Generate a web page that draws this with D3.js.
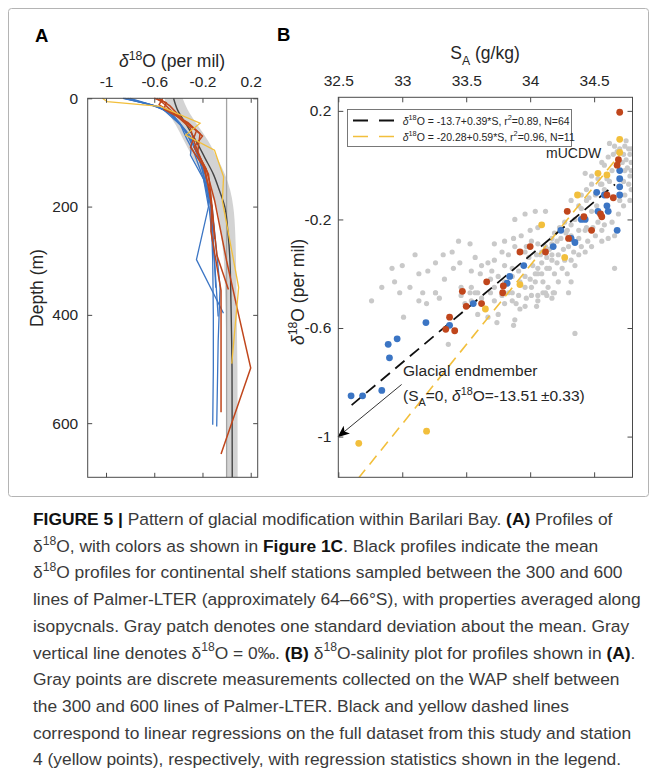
<!DOCTYPE html>
<html><head><meta charset="utf-8">
<script src="https://cdn.jsdelivr.net/npm/d3@7"></script>
<style>body{margin:0;background:#fff} svg{display:block} text{font-family:"Liberation Sans",Arial,Helvetica,sans-serif}</style>
</head><body><svg id="c" width="657" height="777"></svg>
<script>
// ---------------- DATA ----------------
// Panel A: mean profile (depth m, d18O per mil) and one standard deviation
const meanDepth = [0, 20, 50, 80, 110, 140, 170, 200, 250, 300, 375, 450, 500, 600, 700];
const meanD18O  = [-0.44, -0.41, -0.33, -0.25, -0.18, -0.11, -0.06, -0.015, 0.012, 0.028, 0.036, 0.042, 0.045, 0.046, 0.047];
const stdD18O   = [0.075, 0.085, 0.09, 0.1, 0.1, 0.095, 0.09, 0.07, 0.06, 0.05, 0.047, 0.045, 0.045, 0.045, 0.045];
// station profiles: [depth, d18O]
const blueProfiles = [
  [[0,-0.86],[10,-0.66],[20,-0.53],[50,-0.38],[75,-0.33],[100,-0.27],[150,-0.19],[200,-0.13],[300,-0.115],[400,-0.11],[500,-0.11],[603,-0.115]],
  [[0,-0.84],[12,-0.62],[22,-0.5],[45,-0.39],[80,-0.29],[110,-0.23],[160,-0.17],[200,-0.12],[349,-0.054],[450,-0.07],[606,-0.082]],
  [[0,-0.82],[14,-0.6],[25,-0.48],[55,-0.36],[90,-0.26],[130,-0.2],[190,-0.15],[300,-0.1],[403,-0.07]],
  [[0,-0.8],[15,-0.58],[30,-0.45],[60,-0.34],[85,-0.29],[105,-0.3],[150,-0.19],[200,-0.15],[298,-0.25],[397,-0.026]],
  [[0,-0.85],[16,-0.56],[35,-0.43],[70,-0.3],[100,-0.25],[140,-0.18],[200,-0.13],[260,-0.11],[350,-0.09]]
];
const redProfiles = [
  [[0,-0.6],[8,-0.5],[20,-0.52],[45,-0.32],[70,-0.2],[90,-0.27],[130,-0.17],[188,-0.1],[300,0.0],[400,0.1],[498,0.2],[657,-0.046]],
  [[0,-0.58],[10,-0.52],[25,-0.45],[55,-0.3],[80,-0.27],[120,-0.2],[170,-0.14],[200,-0.125],[246,-0.13],[355,-0.046],[450,-0.046],[580,-0.046]],
  [[0,-0.53],[12,-0.56],[30,-0.42],[60,-0.25],[90,-0.3],[130,-0.18],[190,-0.13],[290,-0.08],[353,0.015]],
  [[0,-0.56],[14,-0.47],[40,-0.36],[65,-0.22],[100,-0.24],[140,-0.15],[200,-0.12],[260,-0.1]]
];
const yellowProfile = [[0,-1.03],[6,-0.99],[15,-0.55],[46,-0.22],[68,-0.34],[96,-0.1],[145,-0.025],[190,-0.035],[349,0.1],[490,0.043]];

const xTicksA = [-1, -0.6, -0.2, 0.2];
const yTicksA = [0, 200, 400, 600];

// Panel B: [SA, d18O]
const grayPoints = [
 [34.62,0.08],[34.66,0.07],[34.70,0.06],[34.74,0.07],[34.77,0.06],[34.78,0.04],[34.75,0.02],[34.79,0.01],[34.76,-0.01],[34.79,-0.02],
 [34.74,-0.02],[34.78,-0.04],[34.73,-0.06],[34.77,-0.07],[34.79,-0.09],[34.74,-0.11],[34.78,-0.13],[34.70,-0.13],[34.73,-0.15],[34.64,-0.02],
 [34.58,0.0],[34.56,0.01],[34.61,0.03],[34.65,0.04],[34.43,-0.03],[34.48,-0.04],[34.53,-0.05],[34.48,-0.07],[34.44,-0.09],[34.40,-0.11],
 [34.32,-0.13],[34.38,-0.15],[34.44,-0.13],[34.48,-0.17],[34.52,-0.15],[34.53,-0.21],[34.49,-0.23],[34.51,-0.26],[34.45,-0.28],[34.56,-0.28],
 [34.61,-0.27],[34.66,-0.26],[34.66,-0.38],[34.43,-0.24],[34.38,-0.24],[34.32,-0.22],[34.27,-0.21],[34.23,-0.23],[34.19,-0.25],[34.17,-0.27],
 [34.30,-0.30],[34.26,-0.31],[34.22,-0.33],[34.17,-0.33],[34.13,-0.34],[34.09,-0.36],[34.06,-0.38],[34.04,-0.40],[34.00,-0.42],[34.12,-0.30],
 [34.06,-0.29],[34.01,-0.28],[33.97,-0.30],[33.96,-0.32],[33.99,-0.34],[34.02,-0.37],[34.06,-0.40],[34.10,-0.43],[34.14,-0.45],[34.18,-0.47],
 [34.22,-0.43],[34.19,-0.40],[34.15,-0.38],[34.21,-0.36],[34.25,-0.38],[34.29,-0.40],[34.32,-0.43],[34.32,-0.35],[34.38,-0.33],[34.43,-0.32],
 [34.35,-0.37],[34.30,-0.47],[34.12,-0.47],[33.86,-0.47],[33.91,-0.48],[34.12,-0.17],[34.04,-0.17],[33.96,-0.18],[33.88,-0.20],[34.06,-0.23],
 [34.00,-0.24],[33.93,-0.26],[33.87,-0.27],[33.80,-0.28],[33.72,-0.29],[33.88,-0.30],[33.83,-0.33],[33.78,-0.32],[33.72,-0.35],[33.67,-0.36],
 [33.62,-0.37],[33.57,-0.34],[33.53,-0.29],[33.44,-0.28],[33.39,-0.32],[33.32,-0.33],[33.26,-0.36],[33.20,-0.39],[33.13,-0.40],[33.10,-0.33],
 [33.00,-0.37],[32.92,-0.38],[32.84,-0.45],[32.94,-0.43],[33.06,-0.45],[33.16,-0.47],[33.26,-0.47],[33.33,-0.42],[33.40,-0.38],[33.45,-0.36],
 [33.54,-0.39],[33.61,-0.40],[33.70,-0.39],[33.75,-0.41],[33.80,-0.37],[33.86,-0.38],[33.91,-0.39],[33.96,-0.41],[34.01,-0.45],[33.54,-0.45],
 [33.46,-0.45],[33.59,-0.47],[33.72,-0.45],[33.80,-0.43],[33.69,-0.42],[32.76,-0.50],[32.98,-0.47],[33.13,-0.50],[33.19,-0.51],[33.01,-0.56],
 [33.26,-0.47],[33.29,-0.49],[33.36,-0.66],[33.46,-0.48],[33.53,-0.47],[33.57,-0.47],[33.62,-0.49],[33.69,-0.47],[33.72,-0.50],[33.78,-0.48],
 [33.83,-0.47],[33.86,-0.50],[33.89,-0.51],[33.97,-0.49],[34.01,-0.48],[34.06,-0.48],[34.10,-0.47],[34.13,-0.48],[34.05,-0.52],[33.96,-0.52],
 [33.88,-0.57],[33.87,-0.59],[33.74,-0.58],[33.75,-0.55],[34.35,-0.62],[33.92,-0.53],[33.59,-0.55],[33.67,-0.56],
 [34.08,-0.33],[34.15,-0.31],[34.24,-0.27],[34.28,-0.25],[34.35,-0.20],[34.40,-0.16],[34.46,-0.12],[34.55,-0.07],[34.60,-0.05],[34.68,0.05],
 [34.17,-0.29],[34.21,-0.28],[34.09,-0.32],[34.05,-0.33],[34.17,-0.35],[34.13,-0.38],[34.09,-0.40],[34.04,-0.43],[33.96,-0.45],[33.92,-0.43],
 [33.86,-0.41],[34.27,-0.35],[34.34,-0.32],[34.40,-0.30],[34.48,-0.30],[34.38,-0.27],[34.32,-0.26],[34.29,-0.24],[34.44,-0.23],[34.56,-0.24],
 [34.58,-0.22],[34.64,-0.21],[34.69,-0.18],[34.58,-0.09],[34.62,-0.06],[34.56,-0.07],[34.51,-0.11],[34.72,0.01],[34.73,0.04],[34.75,0.09],
 [34.79,0.06],[33.54,-0.50],[33.49,-0.51],[33.80,-0.51],[34.06,-0.50],[34.17,-0.49],[34.19,-0.47]
];
const redPoints = [
 [34.70,0.195],[34.69,0.02],[34.68,0.0],[34.60,-0.11],[34.65,-0.12],[34.55,-0.18],[34.56,-0.19],[34.42,-0.19],[34.29,-0.17],[34.48,-0.24],
 [34.30,-0.27],[33.92,-0.32],[34.00,-0.30],[34.12,-0.32],[33.66,-0.43],[33.79,-0.445],[33.785,-0.47],[33.47,-0.465],[33.50,-0.52],[33.62,-0.51],
 [33.37,-0.56],[33.34,-0.605],[33.41,-0.61]
];
const bluePoints = [
 [34.70,-0.02],[34.70,-0.05],[34.70,-0.08],[34.70,-0.11],[34.52,-0.10],[34.58,-0.11],[34.60,-0.15],[34.61,-0.17],[34.53,-0.17],[34.43,-0.20],
 [34.40,-0.20],[34.68,-0.24],[34.24,-0.24],[34.32,-0.27],[34.35,-0.285],[34.18,-0.30],[33.95,-0.37],[33.84,-0.41],[33.82,-0.435],[33.555,-0.51],
 [33.37,-0.59],[33.185,-0.58],[32.96,-0.64],[32.89,-0.66],[32.90,-0.71],[32.60,-0.85],[32.69,-0.85],[32.84,-0.83]
];
const yellowPoints = [
 [34.70,0.095],[34.70,0.047],[34.53,-0.03],[34.60,-0.036],[34.37,-0.11],[34.09,-0.22],[34.27,-0.34],[33.92,-0.44],[33.65,-0.53],[33.19,-0.98],[32.66,-1.025]
];
// regression lines (end points)
const blackFit  = [[32.604,-0.884],[34.663,-0.071]];
const yellowFit = [[32.656,-1.154],[34.715,0.047]];
// arrow to glacial endmember
const arrowPts = [[32.995,-0.808],[32.5,-1.0]];

const xTicksB = [32.5, 33, 33.5, 34, 34.5];
const yTicksB = [0.2, -0.2, -0.6, -1];

const BLUE = "#3b75c4", RED = "#c0461c", YELLOW = "#f2bf3c", GRAY = "#c9c9c9";

// ---------------- HELPERS ----------------
const svg = d3.select("#c");
svg.append("rect").attr("width", 657).attr("height", 777).attr("fill", "#fff");

function rich(parent, segs, size) {
  const t = parent.append("text").attr("font-size", size);
  let off = 0;
  segs.forEach(s => {
    if (typeof s === "string") s = {t: s};
    const target = s.sup ? -0.42 * size : s.sub ? 0.33 * size : 0;
    const ts = t.append("tspan").text(s.t).attr("dy", target - off);
    off = target;
    if (s.sup || s.sub) ts.attr("font-size", size * 0.7);
    if (s.b) ts.attr("font-weight", "bold");
    if (s.i) ts.attr("font-style", "italic");
  });
  return t;
}

function boxAxes(g, x, y, xt, yt, tick, padX, padY) {
  const top = d3.min(y.range()), bot = d3.max(y.range());
  const left = d3.min(x.range()), right = d3.max(x.range());
  const fmt = d => String(d);
  const ax = [];
  ax.push(g.append("g").attr("transform", `translate(0,${top})`)
    .call(d3.axisTop(x).tickValues(xt).tickSize(-tick).tickPadding(padX).tickFormat(fmt)));
  ax.push(g.append("g").attr("transform", `translate(0,${bot})`)
    .call(d3.axisBottom(x).tickValues(xt).tickSize(-tick).tickFormat("")));
  ax.push(g.append("g").attr("transform", `translate(${left},0)`)
    .call(d3.axisLeft(y).tickValues(yt).tickSize(-tick).tickPadding(padY).tickFormat(fmt)));
  ax.push(g.append("g").attr("transform", `translate(${right},0)`)
    .call(d3.axisRight(y).tickValues(yt).tickSize(-tick).tickFormat("")));
  ax.forEach(a => {
    a.select(".domain").remove();
    a.attr("font-size", 15.5).attr("font-family", "Liberation Sans, Arial, sans-serif");
    a.selectAll("line").attr("stroke", "#4a4a4a").attr("stroke-width", 1);
    a.selectAll("text").attr("fill", "#262626");
  });
  g.append("rect").attr("x", left).attr("y", top).attr("width", right - left).attr("height", bot - top)
    .attr("fill", "none").attr("stroke", "#4a4a4a").attr("stroke-width", 1);
}

// figure border
svg.append("rect").attr("x", 8.5).attr("y", 8.5).attr("width", 640).attr("height", 488).attr("rx", 3)
  .attr("fill", "none").attr("stroke", "#b4b4b4").attr("stroke-width", 1);

// panel letters
svg.append("text").attr("x", 35).attr("y", 42).attr("font-size", 18.5).attr("font-weight", "bold").text("A");
svg.append("text").attr("x", 277).attr("y", 41).attr("font-size", 18.5).attr("font-weight", "bold").text("B");

// ---------------- PANEL A ----------------
const xA = d3.scaleLinear().domain([-1.152, 0.258]).range([87.7, 257.7]);
const yA = d3.scaleLinear().domain([0, 700]).range([98.3, 477.3]);
const gA = svg.append("g");
const band = meanDepth.map((d, i) => ({d, m: meanD18O[i], s: stdD18O[i]}));
gA.append("path").datum(band)
  .attr("d", d3.area().y(p => yA(p.d)).x0(p => xA(p.m - p.s)).x1(p => xA(p.m + p.s)).curve(d3.curveMonotoneY))
  .attr("fill", "#d3d3d3");
gA.append("line").attr("x1", xA(0)).attr("x2", xA(0)).attr("y1", yA(0)).attr("y2", yA(700))
  .attr("stroke", "#a3a3a3").attr("stroke-width", 1.3);
const prof = d3.line().x(p => xA(p[1])).y(p => yA(p[0]));
gA.append("path").datum(band.map(b => [b.d, b.m])).attr("d", d3.line().x(p => xA(p[1])).y(p => yA(p[0])).curve(d3.curveMonotoneY))
  .attr("fill", "none").attr("stroke", "#454545").attr("stroke-width", 1.4);
blueProfiles.forEach(p => gA.append("path").datum(p).attr("d", prof).attr("fill", "none").attr("stroke", BLUE).attr("stroke-width", 1.3));
redProfiles.forEach(p => gA.append("path").datum(p).attr("d", prof).attr("fill", "none").attr("stroke", RED).attr("stroke-width", 1.5));
gA.append("path").datum(yellowProfile).attr("d", prof).attr("fill", "none").attr("stroke", YELLOW).attr("stroke-width", 1.3);
boxAxes(gA, xA, yA, xTicksA, yTicksA, 4.5, 11, 9.5);

rich(svg, [{t: "δ", i: 1}, {t: "18", sup: 1}, "O (per mil)"], 17.5)
  .attr("x", 172).attr("y", 67).attr("text-anchor", "middle").attr("fill", "#262626");
svg.append("text").attr("transform", "translate(43,288) rotate(-90)").attr("text-anchor", "middle")
  .attr("font-size", 17.5).attr("fill", "#262626").text("Depth (m)");

// ---------------- PANEL B ----------------
const xB = d3.scaleLinear().domain([32.5, 34.8]).range([338.3, 632.5]);
const yB = d3.scaleLinear().domain([-1.15, 0.25]).range([477.3, 97.3]);
const gB = svg.append("g");
svg.append("clipPath").attr("id", "clipB").append("rect")
  .attr("x", 338.3).attr("y", 97.3).attr("width", 632.5 - 338.3).attr("height", 477.3 - 97.3);
const plotB = gB.append("g").attr("clip-path", "url(#clipB)");
plotB.selectAll("circle.g").data(grayPoints).join("circle").attr("class", "g")
  .attr("cx", d => xB(d[0])).attr("cy", d => yB(d[1])).attr("r", 2.6).attr("fill", GRAY);
const fitLine = d3.line().x(d => xB(d[0])).y(d => yB(d[1]));
plotB.append("path").datum(yellowFit).attr("d", fitLine).attr("stroke", YELLOW).attr("stroke-width", 1.6)
  .attr("stroke-dasharray", "11,7").attr("fill", "none");
plotB.append("path").datum(blackFit).attr("d", fitLine).attr("stroke", "#111").attr("stroke-width", 1.8)
  .attr("stroke-dasharray", "12,7").attr("fill", "none");
[[bluePoints, BLUE], [redPoints, RED], [yellowPoints, YELLOW]].forEach(([pts, col]) => {
  plotB.append("g").selectAll("circle").data(pts).join("circle")
    .attr("cx", d => xB(d[0])).attr("cy", d => yB(d[1])).attr("r", 3.4).attr("fill", col);
});
// arrow
const defs = svg.append("defs");
defs.append("marker").attr("id", "arr").attr("viewBox", "0 0 12 10").attr("refX", 11).attr("refY", 5)
  .attr("markerWidth", 12).attr("markerHeight", 10).attr("markerUnits", "userSpaceOnUse").attr("orient", "auto")
  .append("path").attr("d", "M0,0 L12,5 L0,10 L3,5 Z").attr("fill", "#000");
gB.append("path").datum(arrowPts).attr("d", fitLine).attr("stroke", "#000").attr("stroke-width", 0.8)
  .attr("fill", "none").attr("marker-end", "url(#arr)");

boxAxes(gB, xB, yB, xTicksB, yTicksB, 5, 11, 7);

// legend
const lg = gB.append("g");
lg.append("rect").attr("x", 347.5).attr("y", 109.5).attr("width", 224).attr("height", 37)
  .attr("fill", "#fff").attr("stroke", "#6a6a6a").attr("stroke-width", 0.9);
lg.append("line").attr("x1", 353).attr("x2", 394).attr("y1", 120.5).attr("y2", 120.5)
  .attr("stroke", "#111").attr("stroke-width", 1.8).attr("stroke-dasharray", "15,11");
lg.append("line").attr("x1", 353).attr("x2", 394).attr("y1", 136.5).attr("y2", 136.5)
  .attr("stroke", YELLOW).attr("stroke-width", 1.6).attr("stroke-dasharray", "15,11");
rich(lg, [{t: "δ", i: 1}, {t: "18", sup: 1}, "O = -13.7+0.39*S, r", {t: "2", sup: 1}, "=0.89, N=64"], 10.5)
  .attr("x", 402.7).attr("y", 124.5).attr("fill", "#262626");
rich(lg, [{t: "δ", i: 1}, {t: "18", sup: 1}, "O = -20.28+0.59*S, r", {t: "2", sup: 1}, "=0.96, N=11"], 10.5)
  .attr("x", 402.7).attr("y", 140.5).attr("fill", "#262626");

// annotations
gB.append("text").attr("x", xB(34.556)).attr("y", yB(0.025)).attr("text-anchor", "end")
  .attr("font-size", 14).attr("fill", "#262626").text("mUCDW");
gB.append("text").attr("x", xB(33.006)).attr("y", yB(-0.775)).attr("font-size", 15.5).attr("fill", "#262626")
  .text("Glacial endmember");
rich(gB, ["(S", {t: "A", sub: 1}, "=0, ", {t: "δ", i: 1}, {t: "18", sup: 1}, "O=-13.51\u2009±0.33)"], 15.5)
  .attr("x", xB(33.006)).attr("y", yB(-0.869)).attr("fill", "#262626");

rich(svg, ["S", {t: "A", sub: 1}, " (g/kg)"], 17.5)
  .attr("x", 485).attr("y", 59).attr("text-anchor", "middle").attr("fill", "#262626");
rich(svg.append("g").attr("transform", "translate(304,292) rotate(-90)"),
  [{t: "δ", i: 1}, {t: "18", sup: 1}, "O (per mil)"], 17.5)
  .attr("text-anchor", "middle").attr("fill", "#262626");

// ---------------- CAPTION ----------------
const captionLines = [
 [{t: "FIGURE 5 | ", b: 1}, "Pattern of glacial modification within Barilari Bay. ", {t: "(A)", b: 1}, " Profiles of"],
 ["δ", {t: "18", sup: 1}, "O, with colors as shown in ", {t: "Figure 1C", b: 1}, ". Black profiles indicate the mean"],
 ["δ", {t: "18", sup: 1}, "O profiles for continental shelf stations sampled between the 300 and 600"],
 ["lines of Palmer-LTER (approximately 64–66°S), with properties averaged along"],
 ["isopycnals. Gray patch denotes one standard deviation about the mean. Gray"],
 ["vertical line denotes δ", {t: "18", sup: 1}, "O = 0‰. ", {t: "(B)", b: 1}, " δ", {t: "18", sup: 1}, "O-salinity plot for profiles shown in ", {t: "(A)", b: 1}, "."],
 ["Gray points are discrete measurements collected on the WAP shelf between"],
 ["the 300 and 600 lines of Palmer-LTER. Black and yellow dashed lines"],
 ["correspond to linear regressions on the full dataset from this study and station"],
 ["4 (yellow points), respectively, with regression statistics shown in the legend."]
];
const capG = captionLines.map((segs, i) => {
  const g = svg.append("g");
  const t = rich(g, segs, 17).attr("fill", "#3a3a3a");
  t.selectAll("tspan").filter(function () { return d3.select(this).attr("font-weight") === "bold"; }).attr("fill", "#111");
  return {g, w: t.node().getBBox().width, i};
});
const maxW = d3.max(capG, c => c.w);
const sx = 608 / maxW;
capG.forEach(c => c.g.attr("transform", `translate(33,${525 + c.i * 26.7}) scale(${sx},1)`));
</script></body></html>
